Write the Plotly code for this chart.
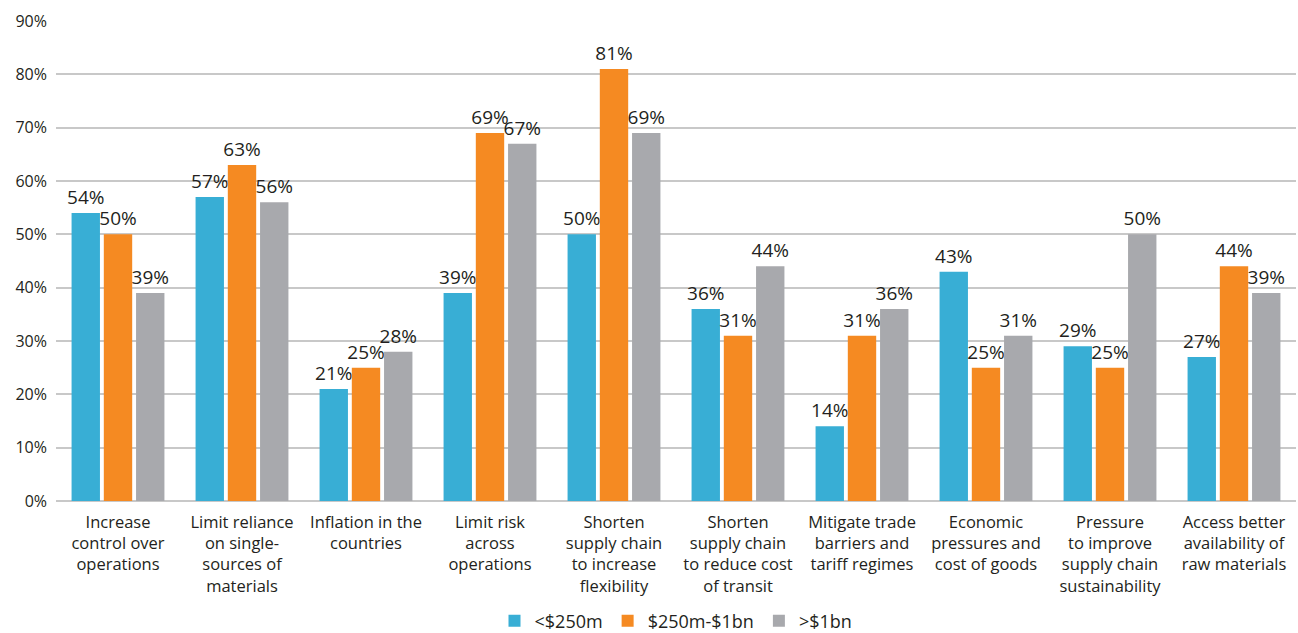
import plotly.graph_objects as go

categories = [
    "Increase<br>control over<br>operations",
    "Limit reliance<br>on single-<br>sources of<br>materials",
    "Inflation in the<br>countries",
    "Limit risk<br>across<br>operations",
    "Shorten<br>supply chain<br>to increase<br>flexibility",
    "Shorten<br>supply chain<br>to reduce cost<br>of transit",
    "Mitigate trade<br>barriers and<br>tariff regimes",
    "Economic<br>pressures and<br>cost of goods",
    "Pressure<br>to improve<br>supply chain<br>sustainability",
    "Access better<br>availability of<br>raw materials",
]

series_names = ["<$250m", "$250m-$1bn", ">$1bn"]
small = [54, 57, 21, 39, 50, 36, 14, 43, 29, 27]
mid = [50, 63, 25, 69, 81, 31, 31, 25, 25, 44]
large = [39, 56, 28, 67, 69, 44, 36, 31, 50, 39]
colors = ["#38AED5", "#F58A22", "#A8A9AD"]

FONT = "Open Sans"
TEXT_COLOR = "#231F20"

fig = go.Figure()
for name, vals, col in zip(series_names, [small, mid, large], colors):
    fig.add_trace(go.Bar(
        x=categories,
        y=vals,
        name=name,
        marker=dict(color=col, line=dict(width=0)),
        text=[f"{v}%" for v in vals],
        textposition="outside",
        constraintext="none",
        textfont=dict(family=FONT, size=19, color=TEXT_COLOR),
        cliponaxis=False,
    ))

fig.update_layout(
    barmode="group",
    bargap=0.22,
    bargroupgap=0.12,
    width=1298,
    height=633,
    margin=dict(l=56, r=2, t=21, b=132, autoexpand=False),
    paper_bgcolor="white",
    plot_bgcolor="white",
    font=dict(family=FONT, size=16, color=TEXT_COLOR),
    legend=dict(
        orientation="h",
        x=0.5, xanchor="center",
        yref="container",
        y=0.019, yanchor="middle",
        font=dict(family=FONT, size=18, color=TEXT_COLOR),
        itemwidth=30,
        traceorder="normal",
    ),
    showlegend=True,
)
fig.update_yaxes(
    range=[0, 90],
    dtick=10,
    ticksuffix="%",
    showgrid=True,
    gridcolor="#C8C8C8",
    gridwidth=1.5,
    zeroline=True,
    zerolinecolor="#C8C8C8",
    zerolinewidth=1.5,
    tickfont=dict(family=FONT, size=16, color=TEXT_COLOR),
    ticks="",
    ticklabelstandoff=8,
    automargin=False,
)
fig.update_xaxes(
    showline=False,
    ticks="",
    tickangle=0,
    tickfont=dict(family=FONT, size=16.5, color=TEXT_COLOR),
    ticklabelstandoff=9,
    automargin=False,
)

fig.write_html("out.html")
